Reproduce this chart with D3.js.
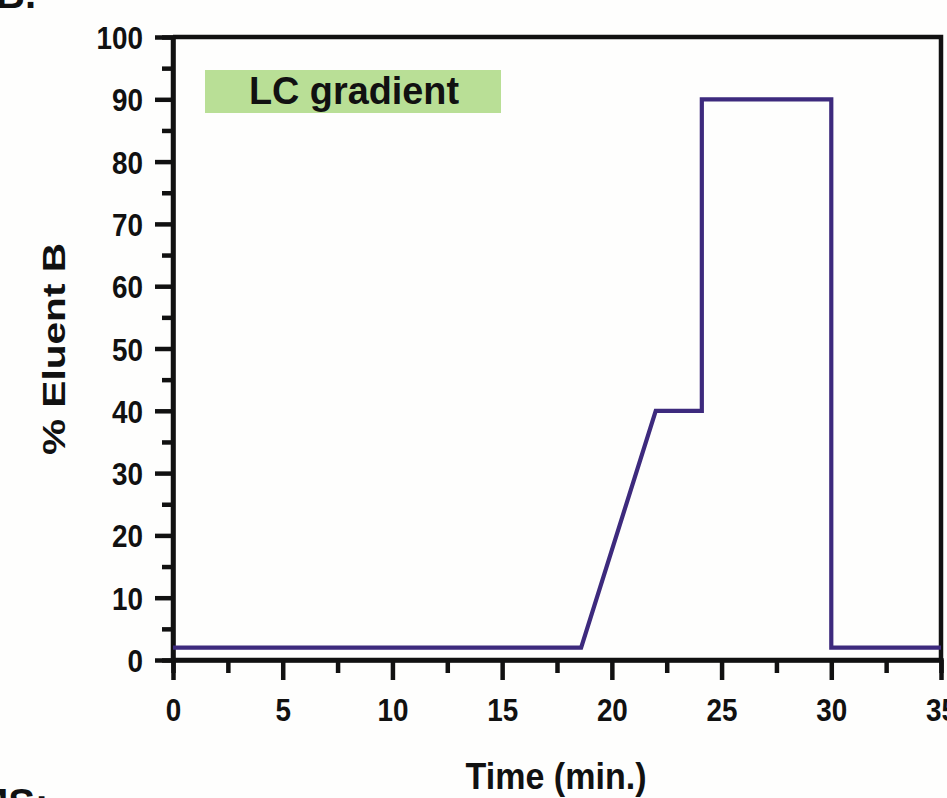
<!DOCTYPE html>
<html><head><meta charset="utf-8">
<script src="https://cdn.jsdelivr.net/npm/d3@7"></script>
<style>
body{margin:0;background:#fefefd;}
svg{display:block;}
text{font-family:"Liberation Sans Narrow","Arial Narrow","Liberation Sans",Arial,sans-serif;font-weight:bold;fill:#111;}
</style></head>
<body>
<script>
const timePoints = [0, 18.6, 22, 24.1, 24.1, 30, 30, 35];
const eluentB    = [2, 2, 40, 40, 90, 90, 2, 2];
const xTicks = [0, 5, 10, 15, 20, 25, 30, 35];
const yTicks = [0, 10, 20, 30, 40, 50, 60, 70, 80, 90, 100];
const xMinor = [2.5, 7.5, 12.5, 17.5, 22.5, 27.5, 32.5];
const yMinor = [5, 15, 25, 35, 45, 55, 65, 75, 85, 95];
const title = "LC gradient";
const xLabel = "Time (min.)";
const yLabel = "% Eluent B";

const W = 947, H = 798;
const svg = d3.select("body").append("svg").attr("width", W).attr("height", H);
svg.append("rect").attr("width", W).attr("height", H).attr("fill", "#fefefd");

const x = d3.scaleLinear().domain([0, 35]).range([173, 941]);
const y = d3.scaleLinear().domain([0, 100]).range([660, 37]);

// frame (top and right)
svg.append("path")
  .attr("d", `M${x(0)},${y(100)}H${x(35)}V${y(0)}`)
  .attr("fill", "none").attr("stroke", "#111").attr("stroke-width", 4.5);

// title box
svg.append("rect").attr("x", 205).attr("y", 70).attr("width", 296).attr("height", 43).attr("fill", "#b9df96");
svg.append("text").attr("transform", "translate(354,104) scale(0.97,1)").attr("text-anchor", "middle")
  .attr("font-size", 39).text(title);

// y axis
const ySx = 0.87, yOff = 30;
const yAxis = svg.append("g").attr("transform", `translate(${x(0)},0)`)
  .call(d3.axisLeft(y).tickValues(yTicks).tickSize(18).tickPadding(12));
const yMinorAxis = svg.append("g").attr("transform", `translate(${x(0)},0)`)
  .call(d3.axisLeft(y).tickValues(yMinor).tickSize(11).tickFormat(""));
// x axis
const xAxis = svg.append("g").attr("transform", `translate(0,${y(0)})`)
  .call(d3.axisBottom(x).tickValues(xTicks).tickSize(20).tickPadding(18));
const xMinorAxis = svg.append("g").attr("transform", `translate(0,${y(0)})`)
  .call(d3.axisBottom(x).tickValues(xMinor).tickSize(13).tickFormat(""));

[yAxis, yMinorAxis, xAxis, xMinorAxis].forEach(g => {
  g.selectAll(".domain").attr("stroke", "#111").attr("stroke-width", 4.5);
  g.selectAll(".tick line").attr("stroke", "#111").attr("stroke-width", 4.5);
  g.selectAll(".tick text").attr("font-size", 32).attr("font-family", null).attr("fill", "#111");
});
yAxis.selectAll(".tick text").attr("dy", "0.36em")
  .attr("x", -yOff / ySx).attr("transform", `scale(${ySx},1)`);
xAxis.selectAll(".tick text").attr("transform", `scale(${ySx},1)`)
  .attr("x", 0);
xAxis.selectAll(".domain").attr("d", `M${x(0)},0H${x(35)}`);
yAxis.selectAll(".domain").attr("d", `M0,${y(0)}V${y(100)}`);

// data line
const line = d3.line().x(d => x(d[0])).y(d => y(d[1]));
svg.append("path")
  .datum(timePoints.map((t, i) => [t, eluentB[i]]))
  .attr("d", line).attr("fill", "none")
  .attr("stroke", "#3d2a7d").attr("stroke-width", 4.2).attr("stroke-linejoin", "miter");

// axis titles
svg.append("text").attr("transform", "translate(556,789) scale(0.92,1)").attr("text-anchor", "middle")
  .attr("font-size", 37).text(xLabel);
svg.append("text").attr("transform", "translate(65,349) rotate(-90) scale(1.27,1)").attr("text-anchor", "middle")
  .attr("font-size", 32).text(yLabel);

// cropped panel labels from surrounding figure
svg.append("text").attr("x", -4).attr("y", 8).attr("font-size", 40).text("B.");
svg.append("text").attr("x", -25).attr("y", 817).attr("font-size", 40).text("MS:");
</script>
</body></html>
